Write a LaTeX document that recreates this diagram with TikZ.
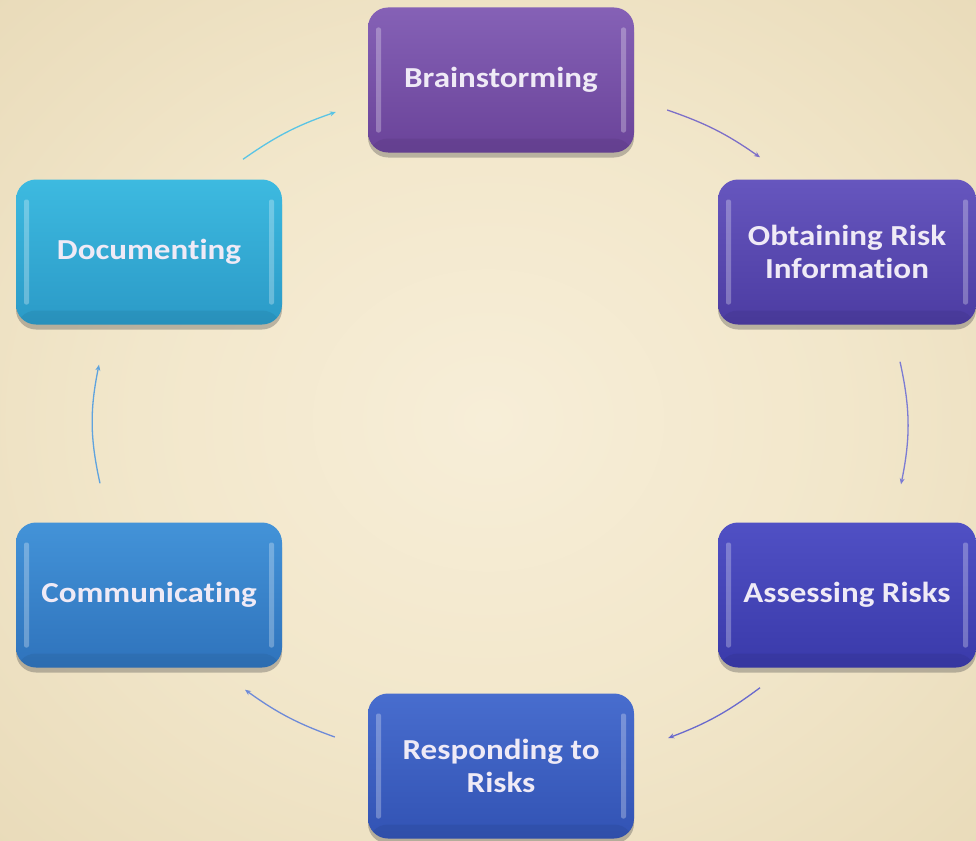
\documentclass[tikz,border=0pt]{standalone}
\usepackage{fontspec}
\setmainfont{Carlito}[Ligatures=NoCommon, FakeStretch=1.14]
\usetikzlibrary{shadows,arrows.meta}

% background paper tones
\definecolor{bgA}{HTML}{F7EED8}
\definecolor{bgB}{HTML}{F2E7CB}
\definecolor{bgC}{HTML}{E3D3AE}
\definecolor{bgD}{HTML}{D3C196}
\pgfdeclareradialshading{paper}{\pgfpoint{0bp}{0bp}}{%
  color(0bp)=(bgA); color(18bp)=(bgB); color(48bp)=(bgC); color(72bp)=(bgD)}

% step colours (top / bottom)
\definecolor{brT}{HTML}{8561B6}\definecolor{brB}{HTML}{6A4399}
\definecolor{obT}{HTML}{6656BE}\definecolor{obB}{HTML}{4C3CA2}
\definecolor{asT}{HTML}{5050C4}\definecolor{asB}{HTML}{3A3AAA}
\definecolor{rsT}{HTML}{486DCE}\definecolor{rsB}{HTML}{3253B4}
\definecolor{cmT}{HTML}{4393D8}\definecolor{cmB}{HTML}{2F73BC}
\definecolor{dcT}{HTML}{3DBAE0}\definecolor{dcB}{HTML}{2B9AC7}
\definecolor{txt}{HTML}{EFEAF6}

\tikzset{
  procbox/.style n args={2}{
    rounded corners=20pt, minimum width=266pt, minimum height=145pt,
    top color=#1, bottom color=#2, draw=none,
    text=txt, font=\bfseries\fontsize{29}{33}\selectfont, align=center,
    drop shadow={shadow xshift=0pt, shadow yshift=-5pt, opacity=.35, fill=black!70},
    path picture={
      \fill[white,opacity=.28,rounded corners=2pt]
        ([xshift=8pt,yshift=-20pt]path picture bounding box.north west) rectangle
        ([xshift=13pt,yshift=20pt]path picture bounding box.south west);
      \fill[white,opacity=.28,rounded corners=2pt]
        ([xshift=-8pt,yshift=-20pt]path picture bounding box.north east) rectangle
        ([xshift=-13pt,yshift=20pt]path picture bounding box.south east);
      \fill[black,opacity=.06]
        ([yshift=14pt]path picture bounding box.south west) rectangle
        (path picture bounding box.south east);
    }},
  flow/.style={line width=1.3pt, -{Stealth[length=6pt,width=5pt]}}
}

\begin{document}
\begin{tikzpicture}[x=1pt,y=-1pt]
  \useasboundingbox (0,0) rectangle (976,840);
  \fill[shading=paper] (0,0) rectangle (976,840);

  % the six steps
  \node[procbox={brT}{brB}] (brain) at (501,80) {Brainstorming};
  \node[procbox={obT}{obB}, minimum width=258pt] (obtain) at (847,252) {Obtaining Risk\\Information};
  \node[procbox={asT}{asB}, minimum width=258pt] (assess) at (847,595) {Assessing Risks};
  \node[procbox={rsT}{rsB}] (respond) at (501,766) {Responding to\\Risks};
  \node[procbox={cmT}{cmB}] (commun) at (149,595) {Communicating};
  \node[procbox={dcT}{dcB}] (docum) at (149,252) {Documenting};

  % cycle connectors
  \draw[flow, color=obT!85!white]
    ([shift={(33,30)}]brain.east) to[bend left=8] ([shift={(-87,-22)}]obtain.north);
  \draw[flow, color=asT!75!white]
    ([shift={(53,37)}]obtain.south) to[bend left=12] ([shift={(54,-38)}]assess.north);
  \draw[flow, color=asT!85!white]
    ([shift={(-87,20)}]assess.south) to[bend left=8] ([shift={(34,-28)}]respond.east);
  \draw[flow, color=rsT!80!white]
    ([shift={(-33,-29)}]respond.west) to[bend left=8] ([shift={(96,22)}]commun.south);
  \draw[flow, color=cmT!85!white]
    ([shift={(-49,-39)}]commun.north) to[bend left=12] ([shift={(-50,40)}]docum.south);
  \draw[flow, color=dcT!85!white]
    ([shift={(94,-20)}]docum.north) to[bend left=8] ([shift={(-32,32)}]brain.west);
\end{tikzpicture}
\end{document}
